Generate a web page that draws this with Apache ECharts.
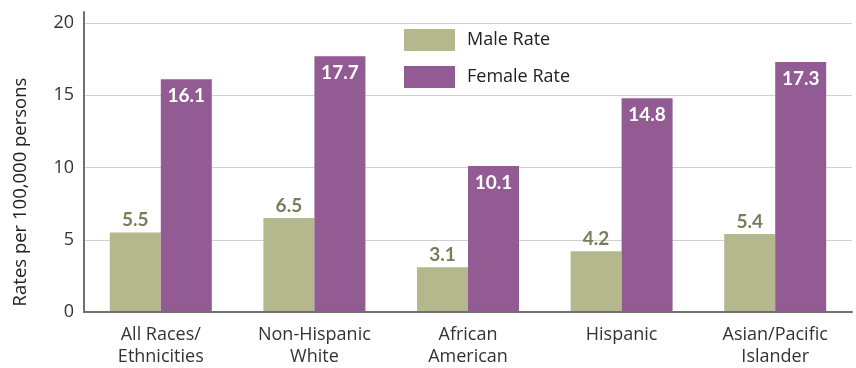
<!DOCTYPE html>
<html>
<head>
<meta charset="utf-8">
<script src="https://cdn.jsdelivr.net/npm/echarts@6/dist/echarts.min.js"></script>
<style>
  html, body { margin: 0; padding: 0; background: #fff; }
  #chart { width: 856px; height: 368px; }
</style>
</head>
<body>
<div id="chart"></div>
<script>
// Rates per 100,000 persons by race/ethnicity and sex
const categories = ['All Races/\nEthnicities', 'Non-Hispanic\nWhite', 'African\nAmerican', 'Hispanic', 'Asian/Pacific\nIslander'];
const maleRate = [5.5, 6.5, 3.1, 4.2, 5.4];
const femaleRate = [16.1, 17.7, 10.1, 14.8, 17.3];
const yTicks = [0, 5, 10, 15, 20];

const FONT = '"Open Sans", "Noto Sans", sans-serif';
const BOLD_FONT = 'Lato, "Open Sans", sans-serif';
const MALE = '#b5b78c';
const FEMALE = '#935b93';
const AXIS = '#707070';

const chart = echarts.init(document.getElementById('chart'), null, { renderer: 'canvas' });

chart.setOption({
  animation: false,
  textStyle: { fontFamily: FONT },
  legend: {
    orient: 'vertical',
    left: 399,
    top: 24,
    itemWidth: 51,
    itemHeight: 22,
    itemGap: 15,
    icon: 'rect',
    textStyle: { fontFamily: FONT, fontSize: 18, color: '#222', padding: [0, 0, 0, 7] },
    data: ['Male Rate', 'Female Rate']
  },
  grid: [
    { left: 84, right: 4, top: 23, bottom: 56 },
    // taller frame that only carries the vertical axis line
    { left: 84, right: 4, top: 12, bottom: 56 }
  ],
  graphic: [{
    type: 'text',
    x: 21,
    y: 192,
    rotation: Math.PI / 2,
    style: {
      text: 'Rates per 100,000 persons',
      fontFamily: FONT,
      fontSize: 18.5,
      fill: '#222',
      align: 'center',
      verticalAlign: 'middle'
    }
  }],
  xAxis: [{
    type: 'category',
    gridIndex: 0,
    data: categories,
    axisLine: { lineStyle: { color: AXIS, width: 2 } },
    axisTick: { show: false },
    axisLabel: {
      interval: 0,
      hideOverlap: false,
      margin: 12,
      fontFamily: FONT,
      fontSize: 18,
      lineHeight: 22,
      color: '#333',
      verticalAlign: 'top'
    },
    z: 5
  }, {
    type: 'category',
    gridIndex: 1,
    data: categories,
    show: false
  }],
  yAxis: [{
    type: 'value',
    gridIndex: 0,
    min: yTicks[0],
    max: yTicks[yTicks.length - 1],
    interval: 5,
    axisLine: { show: false },
    axisTick: { show: false },
    axisLabel: { margin: 10, fontFamily: FONT, fontSize: 18, color: '#333' },
    splitLine: { lineStyle: { color: '#cfcfcf', width: 1 } }
  }, {
    type: 'value',
    gridIndex: 1,
    min: 0,
    max: 1,
    axisLine: { show: true, lineStyle: { color: AXIS, width: 2 } },
    axisTick: { show: false },
    axisLabel: { show: false },
    splitLine: { show: false }
  }],
  series: [{
    name: 'Male Rate',
    type: 'bar',
    xAxisIndex: 0,
    yAxisIndex: 0,
    data: maleRate,
    barWidth: 51,
    barGap: '0%',
    itemStyle: { color: MALE },
    label: {
      show: true,
      position: 'top',
      distance: 3,
      fontFamily: BOLD_FONT,
      fontSize: 19,
      fontWeight: 'bold',
      color: '#7a7c5a'
    }
  }, {
    name: 'Female Rate',
    type: 'bar',
    xAxisIndex: 0,
    yAxisIndex: 0,
    data: femaleRate,
    barWidth: 51,
    barGap: '0%',
    itemStyle: { color: FEMALE },
    label: {
      show: true,
      position: 'insideTop',
      distance: 7,
      fontFamily: BOLD_FONT,
      fontSize: 19,
      fontWeight: 'bold',
      color: '#fff'
    }
  }]
});
</script>
</body>
</html>
